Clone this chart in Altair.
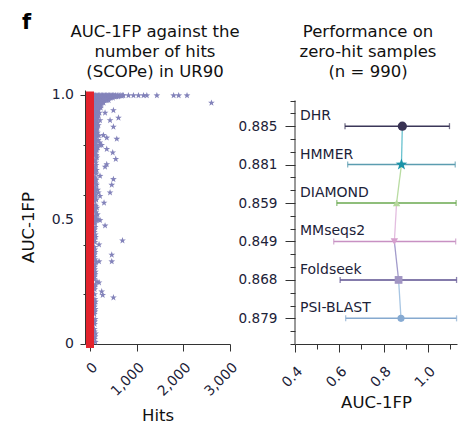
import altair as alt
import pandas as pd

FONT = "DejaVu Sans"
TXT = "#1c2238"
AXC = "#333333"

panel_letter = "f"
left_title = ["AUC-1FP against the", "number of hits", "(SCOPe) in UR90"]
right_title = ["Performance on", "zero-hit samples", "(n = 990)"]

# ---------------- left panel: AUC-1FP vs number of hits ----------------
star_levels = [1.000, 0.995, 0.990, 0.980, 0.970, 0.960, 0.950, 0.940, 0.930, 0.920,
               0.910, 0.900, 0.890, 0.880, 0.874, 0.870, 0.865, 0.860, 0.850, 0.840,
               0.838, 0.830, 0.825, 0.820, 0.810, 0.800, 0.790, 0.784, 0.780, 0.770,
               0.760, 0.750, 0.744, 0.740, 0.730, 0.723, 0.713, 0.710, 0.700, 0.690,
               0.676, 0.670, 0.663, 0.660, 0.650, 0.640, 0.630, 0.620, 0.609, 0.600,
               0.595, 0.590, 0.580, 0.568, 0.560, 0.548, 0.540, 0.530, 0.521, 0.510,
               0.500, 0.498, 0.490, 0.476, 0.470, 0.450, 0.430, 0.416, 0.410, 0.400,
               0.390, 0.370, 0.359, 0.350, 0.332, 0.329, 0.320, 0.300, 0.280, 0.260,
               0.251, 0.247, 0.240, 0.220, 0.211, 0.197, 0.187, 0.180, 0.170, 0.150,
               0.130, 0.100, 0.080, 0.060, 0.042, 0.020, 0.008]
star_hits_rows = [
    [90, 120, 150, 180, 210, 240, 270, 300, 330, 360, 390, 420, 450, 480, 510, 545,
     580, 620, 660, 700, 716, 824, 931, 1039, 1147, 1218, 1433, 1792, 1900, 2079],
    [100, 135, 170, 205, 240, 290, 330, 380, 420, 470, 520, 560, 600],
    [95, 125, 160, 195, 230, 270, 320, 360, 410, 450, 490],
    [100, 130, 165, 200, 240, 280, 320, 360, 400],
    [105, 140, 175, 215, 250, 290, 2602],
    [95, 125, 160, 200, 240],
    [110, 145, 185, 230],
    [100, 135, 175, 502],
    [115, 150, 200, 323],
    [100, 140, 180],
    [110, 160, 610],
    [100, 140, 215, 430],
    [110, 165], [95, 130, 180], [502], [105, 150], [143], [100, 130], [115, 160],
    [100, 140, 287], [190], [120, 359], [574], [100, 150, 175], [115, 210],
    [95, 130, 215, 250], [120, 165], [359], [100, 145], [115, 487], [100, 135],
    [150], [552], [110], [125], [359], [323], [100], [140], [115], [215], [105],
    [502], [130], [100], [140, 466], [110], [95, 165], [179, 430], [120], [215],
    [105], [135], [301], [110], [150], [100], [125], [160], [110], [120, 145, 175],
    [215], [100], [323], [110], [95], [120], [696], [105], [194], [100], [110],
    [466], [95], [194, 466], [130], [105], [100], [110], [95], [150], [194], [115],
    [100], [251], [272], [502], [105], [115], [95], [105], [110], [100], [95], [120],
    [100], [115],
]
star_levels_dense = [0.998, 0.985, 0.975, 0.965, 0.955, 0.945, 0.935, 0.925, 0.915, 0.905,
                     0.895, 0.885, 0.875, 0.855, 0.845, 0.835, 0.815, 0.805, 0.795, 0.775,
                     0.765, 0.755, 0.735, 0.720, 0.705, 0.695, 0.685, 0.665, 0.655, 0.645,
                     0.625, 0.615, 0.605, 0.585, 0.575, 0.555, 0.545, 0.535, 0.515, 0.505,
                     0.485, 0.460, 0.440, 0.420, 0.380, 0.360, 0.340, 0.310, 0.290, 0.270,
                     0.230, 0.200, 0.160, 0.140, 0.120, 0.090, 0.050, 0.030]
star_hits_dense = [
    [95, 115, 135, 155, 175, 195, 215, 235, 255, 275, 295, 315, 335, 355, 375, 395,
     415, 435, 455, 475, 500, 525, 555, 590, 630, 680],
    [110, 140, 175, 210, 250, 290, 330], [120, 160, 200, 235], [110, 150, 185],
    [100, 130, 170], [120, 155], [95, 135], [120, 165], [95, 140], [120], [100, 140],
    [120], [100, 135], [95, 140], [120], [100], [130], [100], [145], [120], [100],
    [130], [100], [130], [110], [100], [130], [115], [95], [125], [100], [120], [100],
    [115], [100], [125], [105], [95], [120], [105], [110], [100], [115], [100], [105],
    [95], [110], [100], [115], [100], [105], [100], [100], [110], [95], [100], [95],
    [110],
]
zero_hit_hits = [0]
zero_hit_auc_low = [0.0]
zero_hit_auc_high = [1.0]

hits_ticks = [0, 500, 1000, 1500, 2000, 2500, 3000]
auc_ticks = [0.0, 0.1, 0.2, 0.3, 0.4, 0.5, 0.6, 0.7, 0.8, 0.9, 1.0]
auc_label_values = [0.0, 0.5, 1.0]
auc_tick_labels = ["0", "0.5", "1.0"]

# ---------------- right panel: zero-hit samples ----------------
methods = ["DHR", "HMMER", "DIAMOND", "MMseqs2", "Foldseek", "PSI-BLAST"]
mean_auc = [0.885, 0.881, 0.859, 0.849, 0.868, 0.879]
err_low = [0.626, 0.638, 0.589, 0.575, 0.604, 0.629]
err_high = [1.098, 1.124, 1.128, 1.126, 1.130, 1.130]
mean_labels = ["0.885", "0.881", "0.859", "0.849", "0.868", "0.879"]
line_colors = ["#3b3658", "#5b9db0", "#6aa84f", "#c891c3", "#5b4f8f", "#86a9cf"]
marker_colors = ["#383253", "#1a93a8", "#b6d89c", "#d6a0cd", "#a195c3", "#86aad2"]
segment_colors = ["#6ac2cf", "#b9dca2", "#e3bde0", "#a29bcb", "#a8c6e3"]
STAR = ("M0,-1L0.235,-0.324L0.951,-0.309L0.38,0.124L0.588,0.809L0,0.4"
        "L-0.588,0.809L-0.38,0.124L-0.951,-0.309L-0.235,-0.324Z")
marker_shapes = ["circle", STAR, "triangle-up", "triangle-down", "square", "circle"]
marker_sizes = [85, 150, 55, 55, 60, 50]
right_x_ticks = [0.4, 0.5, 0.6, 0.7, 0.8, 0.9, 1.0, 1.1]
right_x_labels = ["0.4", "0.6", "0.8", "1.0"]

# ---------------- tables ----------------
star_pairs = [(h, a) for a, hs in zip(star_levels, star_hits_rows) for h in hs]
star_pairs += [(h, a) for a, hs in zip(star_levels_dense, star_hits_dense) for h in hs]
stars_df = pd.DataFrame(star_pairs, columns=["hits", "auc"])
zero_df = pd.DataFrame({"hits": zero_hit_hits, "auc": zero_hit_auc_low, "auc2": zero_hit_auc_high})
one_df = pd.DataFrame({"t": [panel_letter]})
ylab_df = pd.DataFrame({"auc": auc_label_values, "lab": auc_tick_labels})

n = len(methods)
pos = [n - 1 - i for i in range(n)]
m_df = pd.DataFrame({
    "method": methods, "pos": pos, "auc": mean_auc, "lo": err_low, "hi": err_high,
    "lcolor": line_colors, "mcolor": marker_colors, "shape": marker_shapes, "size": marker_sizes,
})
cap_df = pd.DataFrame({
    "x": err_low + err_high, "pos": pos + pos, "lcolor": line_colors + line_colors,
})
seg_df = pd.DataFrame({
    "auc": mean_auc[:-1], "pos": pos[:-1], "auc2": mean_auc[1:], "pos2": pos[1:],
    "scolor": segment_colors,
})
yaxis_df = pd.DataFrame({"pos": [-2 / 3], "pos2": [17 / 3]})


def js_list(items):
    return "[" + ",".join("'" + s + "'" for s in items) + "]"


def title_text(lines, cx):
    return alt.Chart(one_df).mark_text(
        text=lines, align="center", baseline="top", lineHeight=20, fontSize=16.5,
        font=FONT, color="#111111",
    ).encode(x=alt.value(cx), y=alt.value(-66))


f1 = "format(datum.value, '.1f')"
y_scale_l = alt.Scale(domain=[0, 1.022], nice=False)

# ---------------- left chart ----------------
x_left = alt.X(
    "hits:Q", title="Hits",
    scale=alt.Scale(domain=[-107, 3000], nice=False, zero=False),
    axis=alt.Axis(values=hits_ticks, labelAngle=315, labelAlign="right", labelBaseline="top",
                  labelExpr="datum.value % 1000 == 0 ? format(datum.value, ',') : ''",
                  labelOverlap=False, tickSize=7, labelPadding=9, titlePadding=9),
)
y_left = alt.Y(
    "auc:Q", title="AUC-1FP", scale=y_scale_l,
    axis=alt.Axis(values=auc_ticks, labels=False, titlePadding=43, titleY=137,
                  tickSize={"condition": {"test": f"indexof(['0.0','0.5','1.0'], {f1}) >= 0",
                                          "value": 5}, "value": 2}),
)
stars = alt.Chart(stars_df).mark_point(
    shape=STAR, filled=True, size=50, color="#8383ba", opacity=1
).encode(x=x_left, y=y_left)
red = alt.Chart(zero_df).mark_rule(color="#e3232d", strokeWidth=8, strokeCap="square").encode(
    x=alt.X("hits:Q", title="Hits"), y=alt.Y("auc:Q", title="AUC-1FP"), y2="auc2:Q"
)
ylabels = alt.Chart(ylab_df).mark_text(
    align="right", baseline="middle", fontSize=14, font=FONT, color=TXT
).encode(x=alt.value(-11), y=alt.Y("auc:Q", title="AUC-1FP"), text="lab:N")
letter = alt.Chart(one_df).mark_text(
    align="left", baseline="top", fontSize=21, fontWeight="bold", font=FONT, color="black"
).encode(x=alt.value(-63), y=alt.value(-78), text="t:N")

left = alt.layer(stars, red, ylabels, letter, title_text(left_title, 70)).properties(
    width=145, height=254
)

# ---------------- right chart ----------------
x_scale_r = alt.Scale(domain=[0.4, 1.132], nice=False, zero=False)
x_axis_r = alt.Axis(values=right_x_ticks, labelAngle=315, labelAlign="right", labelBaseline="top",
                    labelExpr=f"indexof({js_list(right_x_labels)}, {f1}) >= 0 ? {f1} : ''",
                    tickSize={"condition": {"test": f"indexof({js_list(right_x_labels)}, {f1}) >= 0",
                                            "value": 8}, "value": 5},
                    labelOverlap=False, labelPadding=12, titlePadding=5)
y_scale_r = alt.Scale(domain=[-2 / 3, 5.94], nice=False, zero=False)
label_array = js_list([mean_labels[n - 1 - p] for p in range(n)])
y_axis_r = alt.Axis(values=[k / 3 for k in range(-2, 18)], domain=False, labelPadding=8,
                    labelFontSize=13.6, labelOverlap=False,
                    tickSize={"condition": {"test": "abs(datum.value - round(datum.value)) < 0.01",
                                            "value": 10}, "value": 5},
                    labelExpr="abs(datum.value - round(datum.value)) < 0.01 && round(datum.value) >= 0 ? "
                              + label_array + "[round(datum.value)] : ''")


def xr(field):
    return alt.X(field, title="AUC-1FP", scale=x_scale_r, axis=x_axis_r)


def yr(field):
    return alt.Y(field, title=None, scale=y_scale_r, axis=y_axis_r)


err = alt.Chart(m_df).mark_rule(strokeWidth=1.5).encode(
    x=xr("lo:Q"), x2="hi:Q", y=yr("pos:Q"), color=alt.Color("lcolor:N", scale=None)
)
caps = alt.Chart(cap_df).mark_tick(orient="vertical", size=6, thickness=1.3).encode(
    x=xr("x:Q"), y=yr("pos:Q"), color=alt.Color("lcolor:N", scale=None)
)
segs = alt.Chart(seg_df).mark_rule(strokeWidth=1.3).encode(
    x=xr("auc:Q"), x2="auc2:Q", y=yr("pos:Q"), y2="pos2:Q", color=alt.Color("scolor:N", scale=None)
)
pts = alt.Chart(m_df).mark_point(filled=True, opacity=1).encode(
    x=xr("auc:Q"), y=yr("pos:Q"),
    shape=alt.Shape("shape:N", scale=None),
    size=alt.Size("size:Q", scale=None),
    color=alt.Color("mcolor:N", scale=None),
)
labels = alt.Chart(m_df).mark_text(
    align="left", baseline="alphabetic", dy=-6, fontSize=14, font=FONT, color=TXT
).encode(x=alt.value(5), y=yr("pos:Q"), text="method:N")
yline = alt.Chart(yaxis_df).mark_rule(color=AXC, strokeWidth=1).encode(
    x=alt.value(0), y=yr("pos:Q"), y2="pos2:Q"
)

right = alt.layer(err, caps, segs, pts, labels, yline, title_text(right_title, 73)).properties(
    width=162, height=254
)

chart = alt.hconcat(left, right, spacing=65, bounds="flush").properties(
    padding={"left": 12, "top": 4, "right": 0, "bottom": 0}
).configure_view(stroke=None).configure_axis(
    grid=False, domainColor=AXC, tickColor=AXC, labelColor=TXT, titleColor="#111111",
    labelFont=FONT, titleFont=FONT, labelFontSize=14, titleFontSize=16.5,
    titleFontWeight="normal", domainWidth=1, tickWidth=1,
)

chart.save("out.html", embed_options={"renderer": "svg", "actions": False})
